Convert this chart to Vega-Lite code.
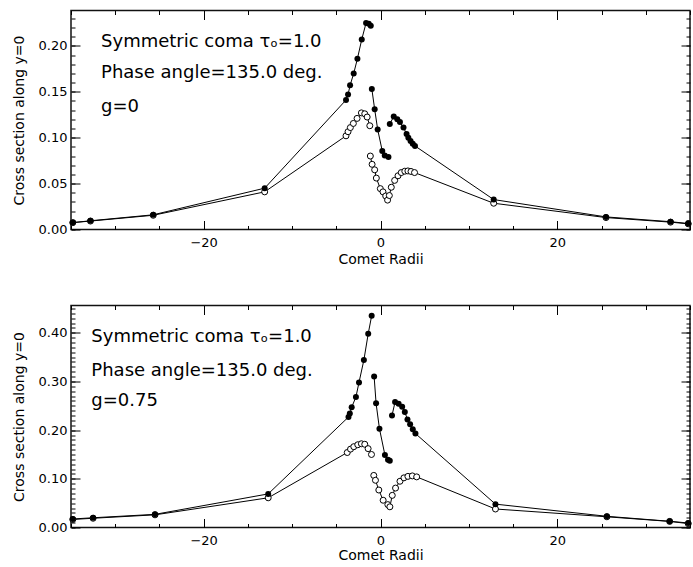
{
  "$schema": "https://vega.github.io/schema/vega-lite/v6.json",
  "padding": {"left": 11, "top": 8.5, "right": 0, "bottom": 0},
  "spacing": 36,
  "config": {
    "view": {"stroke": "#111", "strokeWidth": 1.5},
    "axis": {"domain": false, "grid": false}
  },
  "datasets": {
    "top": [
      {"series": "open", "seg": 1, "x": -34.8, "y": 0.0075}, {"series": "open", "seg": 1, "x": -32.8, "y": 0.0092}, {"series": "open", "seg": 1, "x": -25.7, "y": 0.0155}, {"series": "open", "seg": 1, "x": -13.1, "y": 0.041},
      {"series": "open", "seg": 1, "x": -3.9, "y": 0.102}, {"series": "open", "seg": 1, "x": -3.67, "y": 0.1065}, {"series": "open", "seg": 1, "x": -3.41, "y": 0.111}, {"series": "open", "seg": 1, "x": -3.07, "y": 0.1155}, {"series": "open", "seg": 1, "x": -2.65, "y": 0.121}, {"series": "open", "seg": 1, "x": -2.16, "y": 0.127}, {"series": "open", "seg": 1, "x": -1.78, "y": 0.126}, {"series": "open", "seg": 1, "x": -1.51, "y": 0.1225}, {"series": "open", "seg": 1, "x": -1.21, "y": 0.113},
      {"series": "open", "seg": 2, "x": -1.15, "y": 0.08}, {"series": "open", "seg": 2, "x": -0.95, "y": 0.071}, {"series": "open", "seg": 2, "x": -0.66, "y": 0.065}, {"series": "open", "seg": 2, "x": -0.47, "y": 0.056}, {"series": "open", "seg": 2, "x": -0.02, "y": 0.0445}, {"series": "open", "seg": 2, "x": 0.28, "y": 0.041}, {"series": "open", "seg": 2, "x": 0.59, "y": 0.0365}, {"series": "open", "seg": 2, "x": 0.8, "y": 0.032}, {"series": "open", "seg": 2, "x": 1.0, "y": 0.037}, {"series": "open", "seg": 2, "x": 1.22, "y": 0.046}, {"series": "open", "seg": 2, "x": 1.6, "y": 0.0535}, {"series": "open", "seg": 2, "x": 1.98, "y": 0.0585}, {"series": "open", "seg": 2, "x": 2.35, "y": 0.062}, {"series": "open", "seg": 2, "x": 2.75, "y": 0.0635}, {"series": "open", "seg": 2, "x": 3.1, "y": 0.0638}, {"series": "open", "seg": 2, "x": 3.45, "y": 0.0632}, {"series": "open", "seg": 2, "x": 3.85, "y": 0.062},
      {"series": "open", "seg": 2, "x": 12.8, "y": 0.0286}, {"series": "open", "seg": 2, "x": 25.5, "y": 0.013}, {"series": "open", "seg": 2, "x": 32.8, "y": 0.008}, {"series": "open", "seg": 2, "x": 34.8, "y": 0.0062},
      {"series": "filled", "seg": 1, "x": -34.8, "y": 0.0075}, {"series": "filled", "seg": 1, "x": -32.8, "y": 0.0095}, {"series": "filled", "seg": 1, "x": -25.7, "y": 0.016}, {"series": "filled", "seg": 1, "x": -13.1, "y": 0.045},
      {"series": "filled", "seg": 1, "x": -3.9, "y": 0.141}, {"series": "filled", "seg": 1, "x": -3.67, "y": 0.147}, {"series": "filled", "seg": 1, "x": -3.44, "y": 0.157}, {"series": "filled", "seg": 1, "x": -3.03, "y": 0.17}, {"series": "filled", "seg": 1, "x": -2.61, "y": 0.186}, {"series": "filled", "seg": 1, "x": -2.12, "y": 0.207}, {"series": "filled", "seg": 1, "x": -1.63, "y": 0.225}, {"series": "filled", "seg": 1, "x": -1.33, "y": 0.224}, {"series": "filled", "seg": 1, "x": -1.1, "y": 0.222},
      {"series": "filled", "seg": 2, "x": -0.98, "y": 0.153}, {"series": "filled", "seg": 2, "x": -0.66, "y": 0.131}, {"series": "filled", "seg": 2, "x": -0.32, "y": 0.109}, {"series": "filled", "seg": 2, "x": 0.2, "y": 0.0855}, {"series": "filled", "seg": 2, "x": 0.48, "y": 0.0805}, {"series": "filled", "seg": 2, "x": 0.9, "y": 0.079},
      {"series": "filled", "seg": 3, "x": 1.05, "y": 0.115}, {"series": "filled", "seg": 3, "x": 1.5, "y": 0.123}, {"series": "filled", "seg": 3, "x": 1.9, "y": 0.12}, {"series": "filled", "seg": 3, "x": 2.2, "y": 0.117}, {"series": "filled", "seg": 3, "x": 2.6, "y": 0.111}, {"series": "filled", "seg": 3, "x": 2.95, "y": 0.104}, {"series": "filled", "seg": 3, "x": 3.15, "y": 0.1}, {"series": "filled", "seg": 3, "x": 3.4, "y": 0.0965}, {"series": "filled", "seg": 3, "x": 3.65, "y": 0.0935}, {"series": "filled", "seg": 3, "x": 3.9, "y": 0.091},
      {"series": "filled", "seg": 3, "x": 12.8, "y": 0.0326}, {"series": "filled", "seg": 3, "x": 25.5, "y": 0.0137}, {"series": "filled", "seg": 3, "x": 32.8, "y": 0.0085}, {"series": "filled", "seg": 3, "x": 34.8, "y": 0.0065}
    ],
    "bottom": [
      {"series": "open", "seg": 1, "x": -34.8, "y": 0.0165}, {"series": "open", "seg": 1, "x": -32.5, "y": 0.019}, {"series": "open", "seg": 1, "x": -25.5, "y": 0.026}, {"series": "open", "seg": 1, "x": -12.7, "y": 0.061},
      {"series": "open", "seg": 1, "x": -3.76, "y": 0.154}, {"series": "open", "seg": 1, "x": -3.39, "y": 0.161}, {"series": "open", "seg": 1, "x": -3.02, "y": 0.166}, {"series": "open", "seg": 1, "x": -2.57, "y": 0.17}, {"series": "open", "seg": 1, "x": -2.16, "y": 0.172}, {"series": "open", "seg": 1, "x": -1.78, "y": 0.171}, {"series": "open", "seg": 1, "x": -1.4, "y": 0.162}, {"series": "open", "seg": 1, "x": -1.02, "y": 0.15},
      {"series": "open", "seg": 2, "x": -0.76, "y": 0.107}, {"series": "open", "seg": 2, "x": -0.57, "y": 0.097}, {"series": "open", "seg": 2, "x": -0.19, "y": 0.077}, {"series": "open", "seg": 2, "x": 0.3, "y": 0.056}, {"series": "open", "seg": 2, "x": 0.83, "y": 0.047}, {"series": "open", "seg": 2, "x": 1.06, "y": 0.0425}, {"series": "open", "seg": 2, "x": 1.33, "y": 0.066}, {"series": "open", "seg": 2, "x": 1.7, "y": 0.081}, {"series": "open", "seg": 2, "x": 2.2, "y": 0.095}, {"series": "open", "seg": 2, "x": 2.65, "y": 0.102}, {"series": "open", "seg": 2, "x": 3.1, "y": 0.105}, {"series": "open", "seg": 2, "x": 3.6, "y": 0.106}, {"series": "open", "seg": 2, "x": 4.09, "y": 0.104},
      {"series": "open", "seg": 2, "x": 13.0, "y": 0.038}, {"series": "open", "seg": 2, "x": 25.6, "y": 0.022}, {"series": "open", "seg": 2, "x": 32.7, "y": 0.0125}, {"series": "open", "seg": 2, "x": 34.8, "y": 0.008},
      {"series": "filled", "seg": 1, "x": -34.8, "y": 0.0175}, {"series": "filled", "seg": 1, "x": -32.5, "y": 0.02}, {"series": "filled", "seg": 1, "x": -25.5, "y": 0.027}, {"series": "filled", "seg": 1, "x": -12.7, "y": 0.069},
      {"series": "filled", "seg": 1, "x": -3.62, "y": 0.227}, {"series": "filled", "seg": 1, "x": -3.47, "y": 0.234}, {"series": "filled", "seg": 1, "x": -3.26, "y": 0.247}, {"series": "filled", "seg": 1, "x": -2.78, "y": 0.268}, {"series": "filled", "seg": 1, "x": -2.43, "y": 0.298}, {"series": "filled", "seg": 1, "x": -1.88, "y": 0.344}, {"series": "filled", "seg": 1, "x": -1.39, "y": 0.398}, {"series": "filled", "seg": 1, "x": -1.0, "y": 0.435},
      {"series": "filled", "seg": 2, "x": -0.72, "y": 0.31}, {"series": "filled", "seg": 2, "x": -0.5, "y": 0.255}, {"series": "filled", "seg": 2, "x": -0.12, "y": 0.203}, {"series": "filled", "seg": 2, "x": 0.5, "y": 0.149}, {"series": "filled", "seg": 2, "x": 0.85, "y": 0.139}, {"series": "filled", "seg": 2, "x": 1.05, "y": 0.137},
      {"series": "filled", "seg": 3, "x": 1.3, "y": 0.23}, {"series": "filled", "seg": 3, "x": 1.65, "y": 0.258}, {"series": "filled", "seg": 3, "x": 2.05, "y": 0.254}, {"series": "filled", "seg": 3, "x": 2.45, "y": 0.248}, {"series": "filled", "seg": 3, "x": 2.75, "y": 0.237}, {"series": "filled", "seg": 3, "x": 3.05, "y": 0.222}, {"series": "filled", "seg": 3, "x": 3.35, "y": 0.212}, {"series": "filled", "seg": 3, "x": 3.65, "y": 0.202}, {"series": "filled", "seg": 3, "x": 3.95, "y": 0.193},
      {"series": "filled", "seg": 3, "x": 13.0, "y": 0.048}, {"series": "filled", "seg": 3, "x": 25.6, "y": 0.023}, {"series": "filled", "seg": 3, "x": 32.7, "y": 0.0128}, {"series": "filled", "seg": 3, "x": 34.8, "y": 0.0093}
    ],
    "topText": [
      {"label": "Symmetric coma τₒ=1.0", "x": -31.6, "y": 0.199},
      {"label": "Phase angle=135.0 deg.", "x": -31.6, "y": 0.165},
      {"label": "g=0", "x": -31.6, "y": 0.128}
    ],
    "bottomText": [
      {"label": "Symmetric coma τₒ=1.0", "x": -32.7, "y": 0.382},
      {"label": "Phase angle=135.0 deg.", "x": -32.7, "y": 0.312},
      {"label": "g=0.75", "x": -32.7, "y": 0.249}
    ]
  },
  "vconcat": [
    {
      "width": 619,
      "height": 219,
      "resolve": {"axis": {"x": "independent", "y": "independent"}},
      "layer": [
        {
          "data": {"name": "top"},
          "transform": [{"filter": "datum.series === 'open'"}],
          "mark": {"type": "line", "color": "#000", "strokeWidth": 1},
          "encoding": {
            "x": {"field": "x", "type": "quantitative", "scale": {"domain": [-35, 35], "nice": false}, "axis": {"orient": "bottom", "values": [-20, 0, 20], "format": "d", "ticks": true, "tickSize": -9, "tickColor": "#000", "tickWidth": 1, "labelFlush": false, "labelPadding": 16, "labelFontSize": 13, "labelFont": "DejaVu Sans", "labelColor": "#000", "title": "Comet Radii", "titleFont": "DejaVu Sans", "titleFontWeight": "normal", "titleColor": "#000", "titleFontSize": 14, "titlePadding": 3}},
            "y": {"field": "y", "type": "quantitative", "scale": {"domain": [0, 0.2385], "nice": false}, "axis": {"orient": "left", "values": [0, 0.05, 0.1, 0.15, 0.2], "format": ".2f", "ticks": true, "tickSize": -9, "tickColor": "#000", "tickWidth": 1, "labelFlush": false, "labelPadding": 13, "labelFontSize": 13, "labelFont": "DejaVu Sans", "labelColor": "#000", "title": "Cross section along y=0", "titleFont": "DejaVu Sans", "titleFontWeight": "normal", "titleColor": "#000", "titleFontSize": 14, "titlePadding": 12}},
            "detail": {"field": "seg", "type": "nominal"}
          }
        },
        {
          "data": {"name": "top"},
          "transform": [{"filter": "datum.series === 'open'"}],
          "mark": {"type": "point", "shape": "circle", "filled": false, "fill": "white", "stroke": "#000", "strokeWidth": 1, "size": 36, "opacity": 1},
          "encoding": {
            "x": {"field": "x", "type": "quantitative", "scale": {"domain": [-35, 35], "nice": false}, "axis": {"orient": "top", "offset": -9, "values": [-20, 0, 20], "tickSize": 9, "tickColor": "#000", "tickWidth": 1, "labels": false, "title": null, "zindex": 1}},
            "y": {"field": "y", "type": "quantitative", "scale": {"domain": [0, 0.2385], "nice": false}, "axis": {"orient": "right", "offset": -9, "values": [0, 0.05, 0.1, 0.15, 0.2], "tickSize": 9, "tickColor": "#000", "tickWidth": 1, "labels": false, "title": null, "zindex": 1}}
          }
        },
        {
          "data": {"name": "top"},
          "transform": [{"filter": "datum.series === 'filled'"}],
          "mark": {"type": "line", "color": "#000", "strokeWidth": 1},
          "encoding": {
            "x": {"field": "x", "type": "quantitative", "scale": {"domain": [-35, 35], "nice": false}, "axis": {"orient": "bottom", "offset": -4, "values": [-35, -30, -25, -20, -15, -10, -5, 0, 5, 10, 15, 20, 25, 30, 35], "tickSize": 4, "tickColor": "#000", "tickWidth": 1, "labels": false, "title": null, "zindex": 1}},
            "y": {"field": "y", "type": "quantitative", "scale": {"domain": [0, 0.2385], "nice": false}, "axis": {"orient": "left", "offset": -4, "values": [0, 0.01, 0.02, 0.03, 0.04, 0.05, 0.06, 0.07, 0.08, 0.09, 0.1, 0.11, 0.12, 0.13, 0.14, 0.15, 0.16, 0.17, 0.18, 0.19, 0.2, 0.21, 0.22, 0.23], "tickSize": 4, "tickColor": "#000", "tickWidth": 1, "labels": false, "title": null, "zindex": 1}},
            "detail": {"field": "seg", "type": "nominal"}
          }
        },
        {
          "data": {"name": "top"},
          "transform": [{"filter": "datum.series === 'filled'"}],
          "mark": {"type": "point", "shape": "circle", "filled": true, "color": "#000", "size": 36, "opacity": 1},
          "encoding": {
            "x": {"field": "x", "type": "quantitative", "scale": {"domain": [-35, 35], "nice": false}, "axis": {"orient": "top", "offset": -4, "values": [-35, -30, -25, -20, -15, -10, -5, 0, 5, 10, 15, 20, 25, 30, 35], "tickSize": 4, "tickColor": "#000", "tickWidth": 1, "labels": false, "title": null, "zindex": 1}},
            "y": {"field": "y", "type": "quantitative", "scale": {"domain": [0, 0.2385], "nice": false}, "axis": {"orient": "right", "offset": -4, "values": [0, 0.01, 0.02, 0.03, 0.04, 0.05, 0.06, 0.07, 0.08, 0.09, 0.1, 0.11, 0.12, 0.13, 0.14, 0.15, 0.16, 0.17, 0.18, 0.19, 0.2, 0.21, 0.22, 0.23], "tickSize": 4, "tickColor": "#000", "tickWidth": 1, "labels": false, "title": null, "zindex": 1}}
          }
        },
        {
          "data": {"name": "topText"},
          "mark": {"type": "text", "align": "left", "baseline": "alphabetic", "font": "DejaVu Sans", "fontSize": 18, "color": "#000"},
          "encoding": {
            "x": {"field": "x", "type": "quantitative", "scale": {"domain": [-35, 35], "nice": false}, "axis": null},
            "y": {"field": "y", "type": "quantitative", "scale": {"domain": [0, 0.2385], "nice": false}, "axis": null},
            "text": {"field": "label", "type": "nominal"}
          }
        }
      ]
    },
    {
      "width": 619,
      "height": 222,
      "resolve": {"axis": {"x": "independent", "y": "independent"}},
      "layer": [
        {
          "data": {"name": "bottom"},
          "transform": [{"filter": "datum.series === 'open'"}],
          "mark": {"type": "line", "color": "#000", "strokeWidth": 1},
          "encoding": {
            "x": {"field": "x", "type": "quantitative", "scale": {"domain": [-35, 35], "nice": false}, "axis": {"orient": "bottom", "values": [-20, 0, 20], "format": "d", "ticks": true, "tickSize": -9, "tickColor": "#000", "tickWidth": 1, "labelFlush": false, "labelPadding": 16, "labelFontSize": 13, "labelFont": "DejaVu Sans", "labelColor": "#000", "title": "Comet Radii", "titleFont": "DejaVu Sans", "titleFontWeight": "normal", "titleColor": "#000", "titleFontSize": 14, "titlePadding": 1}},
            "y": {"field": "y", "type": "quantitative", "scale": {"domain": [0, 0.456], "nice": false}, "axis": {"orient": "left", "values": [0, 0.1, 0.2, 0.3, 0.4], "format": ".2f", "ticks": true, "tickSize": -9, "tickColor": "#000", "tickWidth": 1, "labelFlush": false, "labelPadding": 13, "labelFontSize": 13, "labelFont": "DejaVu Sans", "labelColor": "#000", "title": "Cross section along y=0", "titleFont": "DejaVu Sans", "titleFontWeight": "normal", "titleColor": "#000", "titleFontSize": 14, "titlePadding": 12}},
            "detail": {"field": "seg", "type": "nominal"}
          }
        },
        {
          "data": {"name": "bottom"},
          "transform": [{"filter": "datum.series === 'open'"}],
          "mark": {"type": "point", "shape": "circle", "filled": false, "fill": "white", "stroke": "#000", "strokeWidth": 1, "size": 36, "opacity": 1},
          "encoding": {
            "x": {"field": "x", "type": "quantitative", "scale": {"domain": [-35, 35], "nice": false}, "axis": {"orient": "top", "offset": -9, "values": [-20, 0, 20], "tickSize": 9, "tickColor": "#000", "tickWidth": 1, "labels": false, "title": null, "zindex": 1}},
            "y": {"field": "y", "type": "quantitative", "scale": {"domain": [0, 0.456], "nice": false}, "axis": {"orient": "right", "offset": -9, "values": [0, 0.1, 0.2, 0.3, 0.4], "tickSize": 9, "tickColor": "#000", "tickWidth": 1, "labels": false, "title": null, "zindex": 1}}
          }
        },
        {
          "data": {"name": "bottom"},
          "transform": [{"filter": "datum.series === 'filled'"}],
          "mark": {"type": "line", "color": "#000", "strokeWidth": 1},
          "encoding": {
            "x": {"field": "x", "type": "quantitative", "scale": {"domain": [-35, 35], "nice": false}, "axis": {"orient": "bottom", "offset": -4, "values": [-35, -30, -25, -20, -15, -10, -5, 0, 5, 10, 15, 20, 25, 30, 35], "tickSize": 4, "tickColor": "#000", "tickWidth": 1, "labels": false, "title": null, "zindex": 1}},
            "y": {"field": "y", "type": "quantitative", "scale": {"domain": [0, 0.456], "nice": false}, "axis": {"orient": "left", "offset": -4, "values": [0, 0.01, 0.02, 0.03, 0.04, 0.05, 0.06, 0.07, 0.08, 0.09, 0.1, 0.11, 0.12, 0.13, 0.14, 0.15, 0.16, 0.17, 0.18, 0.19, 0.2, 0.21, 0.22, 0.23, 0.24, 0.25, 0.26, 0.27, 0.28, 0.29, 0.3, 0.31, 0.32, 0.33, 0.34, 0.35, 0.36, 0.37, 0.38, 0.39, 0.4, 0.41, 0.42, 0.43, 0.44, 0.45], "tickSize": 4, "tickColor": "#000", "tickWidth": 1, "labels": false, "title": null, "zindex": 1}},
            "detail": {"field": "seg", "type": "nominal"}
          }
        },
        {
          "data": {"name": "bottom"},
          "transform": [{"filter": "datum.series === 'filled'"}],
          "mark": {"type": "point", "shape": "circle", "filled": true, "color": "#000", "size": 36, "opacity": 1},
          "encoding": {
            "x": {"field": "x", "type": "quantitative", "scale": {"domain": [-35, 35], "nice": false}, "axis": {"orient": "top", "offset": -4, "values": [-35, -30, -25, -20, -15, -10, -5, 0, 5, 10, 15, 20, 25, 30, 35], "tickSize": 4, "tickColor": "#000", "tickWidth": 1, "labels": false, "title": null, "zindex": 1}},
            "y": {"field": "y", "type": "quantitative", "scale": {"domain": [0, 0.456], "nice": false}, "axis": {"orient": "right", "offset": -4, "values": [0, 0.01, 0.02, 0.03, 0.04, 0.05, 0.06, 0.07, 0.08, 0.09, 0.1, 0.11, 0.12, 0.13, 0.14, 0.15, 0.16, 0.17, 0.18, 0.19, 0.2, 0.21, 0.22, 0.23, 0.24, 0.25, 0.26, 0.27, 0.28, 0.29, 0.3, 0.31, 0.32, 0.33, 0.34, 0.35, 0.36, 0.37, 0.38, 0.39, 0.4, 0.41, 0.42, 0.43, 0.44, 0.45], "tickSize": 4, "tickColor": "#000", "tickWidth": 1, "labels": false, "title": null, "zindex": 1}}
          }
        },
        {
          "data": {"name": "bottomText"},
          "mark": {"type": "text", "align": "left", "baseline": "alphabetic", "font": "DejaVu Sans", "fontSize": 18, "color": "#000"},
          "encoding": {
            "x": {"field": "x", "type": "quantitative", "scale": {"domain": [-35, 35], "nice": false}, "axis": null},
            "y": {"field": "y", "type": "quantitative", "scale": {"domain": [0, 0.456], "nice": false}, "axis": null},
            "text": {"field": "label", "type": "nominal"}
          }
        }
      ]
    }
  ]
}
